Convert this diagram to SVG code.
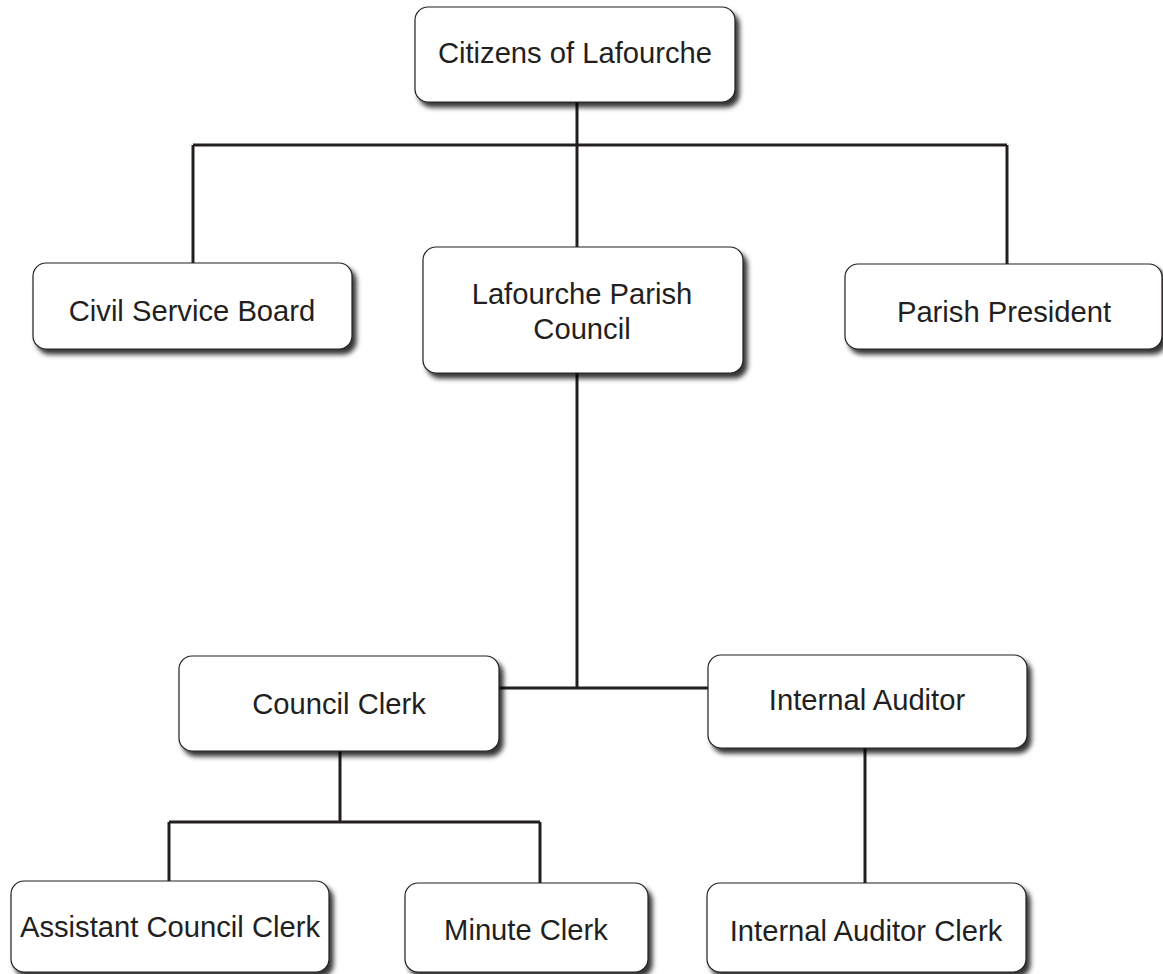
<svg xmlns="http://www.w3.org/2000/svg" width="1163" height="974" viewBox="0 0 1163 974">
<defs>
<filter id="sh" x="-10%" y="-10%" width="130%" height="140%">
<feDropShadow dx="4" dy="5" stdDeviation="2.5" flood-color="#000" flood-opacity="0.8"/>
</filter>
</defs>
<style>
.box{fill:#fff;stroke:#231f20;stroke-width:1.2;filter:url(#sh)}
.t{font-size:29.2px;fill:#231f20;text-anchor:middle}
.c{fill:none;stroke:#231f20;stroke-width:3}
</style>
<rect width="1163" height="974" fill="#fff"/>
<g id="connectors">
<path class="c" d="M577,102V145M193,145H1007M193,145V263M577,145V247M1007,145V264"/>
<path class="c" d="M577,373V688M499,688H708"/>
<path class="c" d="M340,751V822M169,822H540M169,822V881M540,822V883"/>
<path class="c" d="M865,748V883"/>
</g>
<g font-family="'Liberation Sans', Arial, Helvetica, sans-serif">
<g id="citizens"><rect class="box" x="415" y="7" width="320" height="95" rx="13"/><text class="t" x="575" y="63">Citizens of Lafourche</text></g>
<g id="civil-service"><rect class="box" x="33" y="263" width="319" height="86" rx="13"/><text class="t" x="192" y="321">Civil Service Board</text></g>
<g id="parish-council"><rect class="box" x="423" y="247" width="320" height="126" rx="13"/><text class="t" x="582" y="304">Lafourche Parish</text><text class="t" x="582" y="339">Council</text></g>
<g id="parish-president"><rect class="box" x="845" y="264" width="317" height="85" rx="13"/><text class="t" x="1004" y="322">Parish President</text></g>
<g id="council-clerk"><rect class="box" x="179" y="656" width="320" height="95" rx="13"/><text class="t" x="339" y="714">Council Clerk</text></g>
<g id="internal-auditor"><rect class="box" x="708" y="655" width="319" height="93" rx="13"/><text class="t" x="867" y="710">Internal Auditor</text></g>
<g id="assistant-clerk"><rect class="box" x="11" y="881" width="318" height="91" rx="13"/><text class="t" x="170" y="937">Assistant Council Clerk</text></g>
<g id="minute-clerk"><rect class="box" x="405" y="883" width="243" height="89" rx="13"/><text class="t" x="526" y="940">Minute Clerk</text></g>
<g id="auditor-clerk"><rect class="box" x="707" y="883" width="319" height="89" rx="13"/><text class="t" x="866" y="941">Internal Auditor Clerk</text></g>
</g>
</svg>
